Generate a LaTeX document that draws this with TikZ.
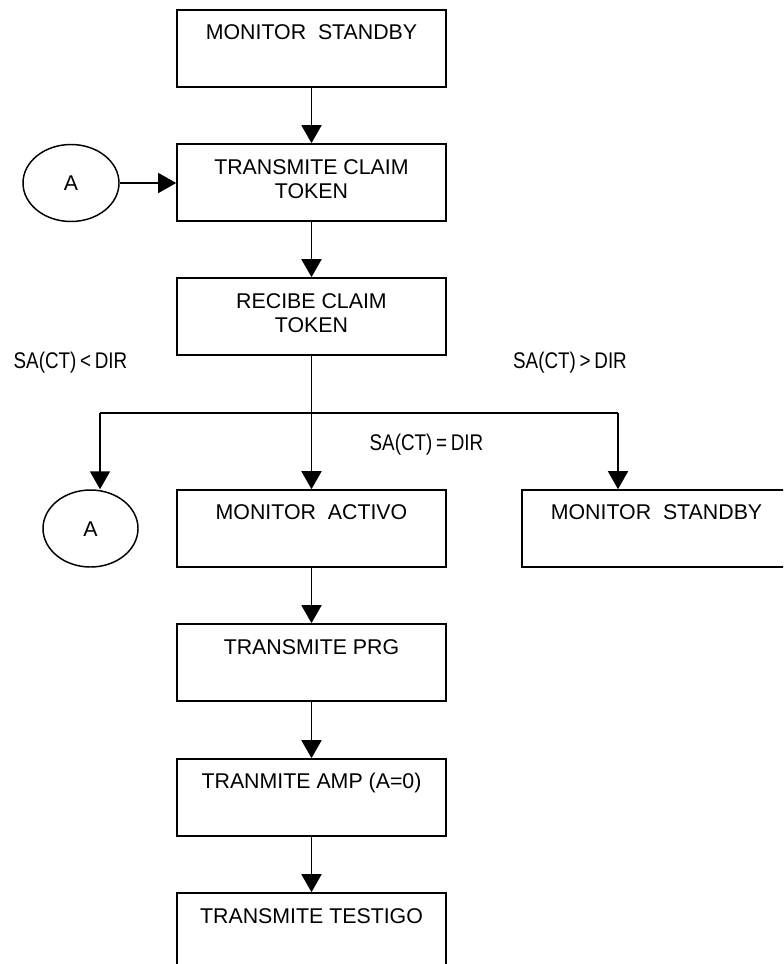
\documentclass[tikz,border=0pt]{standalone}
\usepackage{fontspec}
\setmainfont{Liberation Sans}
\newfontfamily\labelfont[FakeStretch=0.83]{Liberation Sans}
\usetikzlibrary{arrows.meta,shapes.geometric,calc}
\begin{document}
\begin{tikzpicture}[x=0.75pt,y=-0.75pt,
  stepbox/.style={draw, line width=1.2pt, minimum width=201.75pt, minimum height=57.75pt, inner sep=0pt},
  connbubble/.style={draw, ellipse, line width=1.1pt, minimum width=72pt, minimum height=57.75pt, inner sep=0pt},
  connector/.style={draw, line width=1.2pt},
  flow/.style={connector, -{Triangle[length=13.5pt,width=15pt]}},
  boxtext/.style={anchor=base, inner sep=0pt, font=\fontsize{16pt}{18pt}\selectfont},
  condtext/.style={anchor=base, inner sep=0pt, font=\labelfont\fontsize{17pt}{19pt}\selectfont},
]
\path[use as bounding box, clip] (0,0) rectangle (783,964);

% process boxes
\node[stepbox] (b1)  at (311.5,48.5)  {};
\node[stepbox] (b2)  at (311.5,182.5) {};
\node[stepbox] (b3)  at (311.5,316.5) {};
\node[stepbox] (ma)  at (311.5,528.5) {};
\node[stepbox] (rb)  at (656.5,528.5) {};
\node[stepbox] (prg) at (311.5,662.5) {};
\node[stepbox] (amp) at (311.5,797.5) {};
\node[stepbox] (tst) at (311.5,931.5) {};

% connector bubbles
\node[connbubble] (e1) at (71,183) {};
\node[connbubble, minimum width=71.25pt] (e2) at (90.5,528.5) {};

% box texts
\node[boxtext] (t1)  at ($(b1.north)+(0,30)$)  {MONITOR\ \ STANDBY};
\node[boxtext] (t2a) at ($(b2.north)+(0,31)$)  {TRANSMITE CLAIM};
\node[boxtext] (t2b) at ($(b2.north)+(0,55)$)  {TOKEN};
\node[boxtext] (t3a) at ($(b3.north)+(0,31)$)  {RECIBE CLAIM};
\node[boxtext] (t3b) at ($(b3.north)+(0,55)$)  {TOKEN};
\node[boxtext] (tma) at ($(ma.north)+(0,30)$)  {MONITOR\ \ ACTIVO};
\node[boxtext] (trb) at ($(rb.north)+(0,30)$)  {MONITOR\ \ STANDBY};
\node[boxtext] (tpr) at ($(prg.north)+(0,31)$) {TRANSMITE PRG};
\node[boxtext] (tam) at ($(amp.north)+(0,30)$) {TRANMITE AMP (A=0)};
\node[boxtext] (tts) at ($(tst.north)+(0,31)$) {TRANSMITE TESTIGO};
\node[boxtext] (ta1) at ($(e1.center)+(0,7.5)$) {A};
\node[boxtext] (ta2) at ($(e2.center)+(0,7.5)$) {A};

% branch conditions
\node[condtext] (cl) at (70.5,368) {SA(CT)\,<\,DIR};
\node[condtext] (cr) at (570,368)  {SA(CT)\,>\,DIR};
\node[condtext] (cm) at (426.5,450) {SA(CT)\,=\,DIR};

% branch points
\coordinate (jl) at (100,413);
\coordinate (jr) at (618,413);

% flow
\draw[flow] (b1) -- (b2);
\draw[flow] (e1.east) -- (e1.east -| b2.west);
\draw[flow] (b2) -- (b3);
\draw[flow] (b3) -- (ma);
\draw[connector] (jl) -- (jr);
\draw[flow] (jl) -- (jl |- e2.north);
\draw[flow] (jr) -- (jr |- rb.north);
\draw[flow] (ma) -- (prg);
\draw[flow] (prg) -- (amp);
\draw[flow] (amp) -- (tst);
\end{tikzpicture}
\end{document}
